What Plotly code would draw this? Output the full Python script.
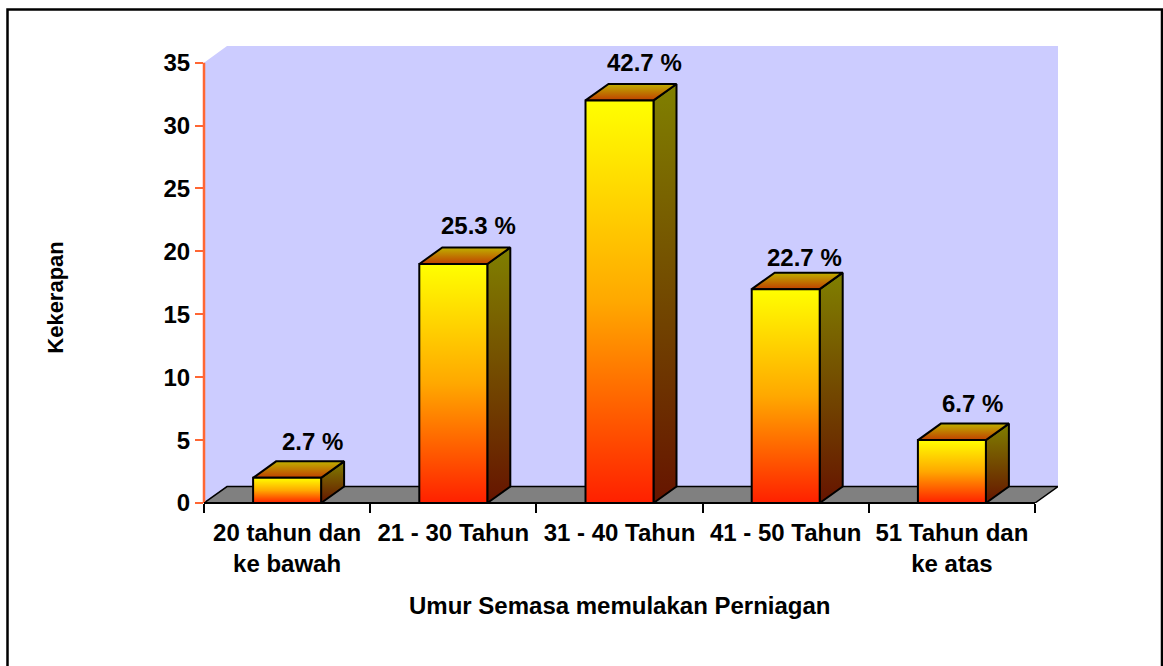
import plotly.graph_objects as go

categories = ["20 tahun dan<br>ke bawah", "21 - 30 Tahun", "31 - 40 Tahun", "41 - 50 Tahun", "51 Tahun dan<br>ke atas"]
frequencies = [2, 19, 32, 17, 5]
percent_labels = ["2.7 %", "25.3 %", "42.7 %", "22.7 %", "6.7 %"]
y_ticks = [0, 5, 10, 15, 20, 25, 30, 35]
x_title = "Umur Semasa memulakan Perniagan"
y_title = "Kekerapan"

W, H = 1163, 666
L, R, T, B = 204, 105, 46, 162.5
unit_x = (1035 - 204) / 5
unit_y = (503.5 - 62.7) / 35
DX = 23 / unit_x
DY = 16.5 / unit_y
BW = 68 / unit_x
XMIN, XMAX = -0.5, 4.5
YTOP = (H - B - T) / unit_y
PW, PH = W - L - R, H - T - B
FONT = "Liberation Sans"
label_shift = [(25, 20), (25, 22), (25, 21), (19, 15), (21, 20)]
ORANGE = "#FF6633"

fig = go.Figure()

# wall + floor
fig.add_trace(go.Scatter(x=[XMIN, XMIN, XMIN + DX, XMAX + DX, XMAX + DX, XMIN + DX, XMIN],
                         y=[0, 35, YTOP, YTOP, DY, DY, 0],
                         mode="none", fill="toself", fillcolor="#CCCCFF", hoverinfo="skip"))
fig.add_trace(go.Scatter(x=[XMIN, XMAX, XMAX + DX, XMIN + DX, XMIN],
                         y=[0, 0, DY, DY, 0], mode="lines", fill="toself", fillcolor="#808080",
                         line=dict(color="black", width=1.5), hoverinfo="skip"))

# solid bars from the data
fig.add_trace(go.Bar(x=list(range(5)), y=frequencies, width=BW,
                     marker=dict(color="#FFB000", line=dict(color="black", width=2))))

FRONT = [[0, "#FF2000"], [0.5, "#FFA800"], [1, "#FFFF00"]]
SIDE = [[0, "#661400"], [1, "#808000"]]
TOP = [[0, "#C04000"], [1, "#BFB000"]]

def face(xs, ys, scale, lo, hi):
    fig.add_trace(go.Scatter(x=xs, y=ys, mode="lines", fill="toself",
                             fillgradient=dict(type="vertical", colorscale=scale, start=lo, stop=hi),
                             line=dict(color="black", width=2), hoverinfo="skip"))

for i, v in enumerate(frequencies):
    x0, x1 = i - BW / 2, i + BW / 2
    face([x1, x1 + DX, x1 + DX, x1, x1], [0, DY, v + DY, v, 0], SIDE, 0, v + DY)
    face([x0, x1, x1 + DX, x0 + DX, x0], [v, v, v + DY, v + DY, v], TOP, v, v + DY)
    face([x0, x1, x1, x0, x0], [0, 0, v, v, 0], FRONT, 0, v)

bold = lambda s: f"<b>{s}</b>"

for i, (v, t) in enumerate(zip(frequencies, percent_labels)):
    sx, sy = label_shift[i]
    fig.add_annotation(x=i, y=v + DY, text=bold(t), showarrow=False, xshift=sx, yshift=sy,
                       font=dict(family=FONT, size=24, color="black"))

fig.add_annotation(xref="paper", yref="paper", x=(620 - L) / PW, y=(H - B - 606) / PH,
                   xanchor="center", yanchor="middle",
                   text=bold(x_title), showarrow=False, font=dict(family=FONT, size=24))
fig.add_annotation(xref="paper", yref="paper", x=(56 - L) / PW, y=(H - B - 298) / PH,
                   xanchor="center", yanchor="middle",
                   text=bold(y_title), textangle=-90, showarrow=False, font=dict(family=FONT, size=22))

fig.update_layout(
    width=W, height=H, showlegend=False, paper_bgcolor="white", plot_bgcolor="white",
    margin=dict(l=L, r=R, t=T, b=B, autoexpand=False),
    font=dict(family=FONT, size=24, color="black"),
    xaxis=dict(range=[XMIN, XMAX + DX], showgrid=False, zeroline=False, showline=False,
               tickmode="array", tickvals=list(range(5)),
               ticktext=[bold(c.replace("<br>", "</b><br><b>")) for c in categories],
               ticks="outside", ticklen=8, tickwidth=0, tickcolor="rgba(0,0,0,0)", tickangle=0,
               minor=dict(tickmode="array", tickvals=[XMIN + k for k in range(6)], ticks="outside",
                          ticklen=9, tickcolor="black", tickwidth=2),
               tickfont=dict(family=FONT, size=24)),
    yaxis=dict(range=[0, YTOP], showgrid=False, zeroline=False, showline=False,
               tickmode="array", tickvals=y_ticks, ticktext=[bold(t) for t in y_ticks],
               ticks="outside", ticklen=8, tickwidth=2, tickcolor=ORANGE,
               tickfont=dict(family=FONT, size=24)),
)
# axis lines (paper-referenced so they are not clipped by the plot area)
fig.add_shape(type="line", xref="paper", yref="paper", x0=0, x1=0, y0=0, y1=35 / YTOP,
              line=dict(color=ORANGE, width=2.5))
fig.add_shape(type="line", xref="paper", yref="paper", x0=0, x1=(XMAX - XMIN) / (XMAX + DX - XMIN), y0=0, y1=0,
              line=dict(color="black", width=2))
# outer frame
fig.add_shape(type="rect", xref="paper", yref="paper",
              x0=(7.5 - L) / PW, x1=(1162 - L) / PW, y0=-0.4, y1=1 + (T - 9.5) / PH,
              line=dict(color="black", width=2.5))

fig.write_html("out.html", config=dict(displayModeBar=False),
               post_script="document.body.style.margin='0';document.body.style.overflow='hidden';")
